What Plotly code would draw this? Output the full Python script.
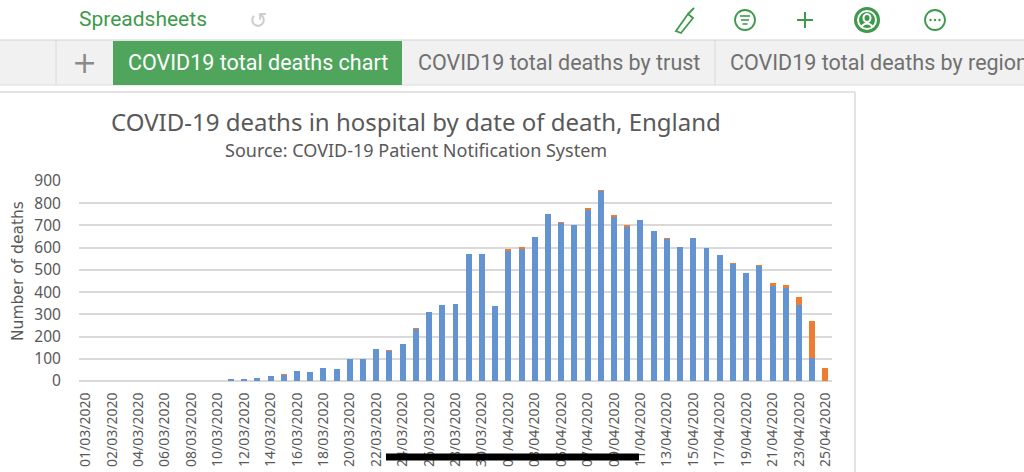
import plotly.graph_objects as go

# ---------------- data ----------------
categories = [
    "Up to 01/03/2020",
    "01/03/2020", "02/03/2020", "03/03/2020", "04/03/2020", "05/03/2020", "06/03/2020",
    "07/03/2020", "08/03/2020", "09/03/2020", "10/03/2020", "11/03/2020", "12/03/2020",
    "13/03/2020", "14/03/2020", "15/03/2020", "16/03/2020", "17/03/2020", "18/03/2020",
    "19/03/2020", "20/03/2020", "21/03/2020", "22/03/2020", "23/03/2020", "24/03/2020",
    "25/03/2020", "26/03/2020", "27/03/2020", "28/03/2020", "29/03/2020", "30/03/2020",
    "31/03/2020",
    "01/04/2020", "02/04/2020", "03/04/2020", "04/04/2020", "05/04/2020", "06/04/2020",
    "07/04/2020", "08/04/2020", "09/04/2020", "10/04/2020", "11/04/2020", "12/04/2020",
    "13/04/2020", "14/04/2020", "15/04/2020", "16/04/2020", "17/04/2020", "18/04/2020",
    "19/04/2020", "20/04/2020", "21/04/2020", "22/04/2020", "23/04/2020", "24/04/2020",
    "25/04/2020",
]

deaths_main = [
    0, 0, 0, 0, 0, 0, 0, 0, 0, 0, 0,
    5, 5, 14, 21, 28, 44, 40, 60, 56, 98,
    98, 144, 136, 167, 235, 311, 344, 347, 571, 571,
    337, 589, 596, 648, 752, 711, 701, 773, 857, 739,
    696, 726, 677, 641, 605, 642, 600, 565, 527, 485,
    520, 427, 420, 340, 102, 0,
]

deaths_added = [
    0, 0, 0, 0, 0, 0, 0, 0, 0, 0, 0,
    0, 0, 0, 0, 1, 0, 0, 0, 0, 0,
    0, 0, 2, 0, 3, 0, 0, 0, 0, 0,
    0, 2, 5, 0, 0, 2, 0, 2, 2, 6,
    2, 0, 0, 2, 0, 0, 0, 0, 1, 0,
    1, 13, 13, 39, 170, 60,
]

tick_labels = [
    "01/03/2020", "02/03/2020", "04/03/2020", "06/03/2020", "08/03/2020", "10/03/2020",
    "12/03/2020", "14/03/2020", "16/03/2020", "18/03/2020", "20/03/2020", "22/03/2020",
    "24/03/2020", "26/03/2020", "28/03/2020", "30/03/2020", "01/04/2020", "03/04/2020",
    "05/04/2020", "07/04/2020", "09/04/2020", "11/04/2020", "13/04/2020", "15/04/2020",
    "17/04/2020", "19/04/2020", "21/04/2020", "23/04/2020", "25/04/2020",
]
tick_values = categories[::2]

title_text = "COVID-19 deaths in hospital by date of death, England"
subtitle_text = "Source: COVID-19 Patient Notification System"
y_title = "Number of deaths"

# ---------------- geometry helpers ----------------
FW, FH = 1024, 472
ML, MR, MT, MB = 79, 192, 181, 91
PW, PH = FW - ML - MR, FH - MT - MB


def px(x):
    return (x - ML) / PW


def py(y):
    return (FH - MB - y) / PH


BLUE = "#6393d1"
ORANGE = "#ed7d31"
TXT = "#595959"
GREEN = "#3d9a4b"
TABGREEN = "#4fa55c"

fig = go.Figure()
fig.add_trace(go.Bar(x=categories, y=deaths_main, marker_color=BLUE,
                     marker_line_width=0, name="Deaths"))
fig.add_trace(go.Bar(x=categories, y=deaths_added, marker_color=ORANGE,
                     marker_line_width=0, name="Deaths added"))

shapes = []
ann = []

# top bar / tab bar backgrounds
shapes.append(dict(type="rect", xref="paper", yref="paper", x0=px(0), x1=px(1024),
                   y0=py(85), y1=py(40), fillcolor="#f1f1f1", line_width=0, layer="below"))
shapes.append(dict(type="line", xref="paper", yref="paper", x0=px(0), x1=px(1024),
                   y0=py(40), y1=py(40), line=dict(color="#d4d4d4", width=1)))
shapes.append(dict(type="line", xref="paper", yref="paper", x0=px(0), x1=px(1024),
                   y0=py(85), y1=py(85), line=dict(color="#dcdcdc", width=1)))
shapes.append(dict(type="line", xref="paper", yref="paper", x0=px(56), x1=px(56),
                   y0=py(85), y1=py(40), line=dict(color="#d8d8d8", width=1)))
shapes.append(dict(type="rect", xref="paper", yref="paper", x0=px(113), x1=px(402),
                   y0=py(85), y1=py(41), fillcolor=TABGREEN, line_width=0))
shapes.append(dict(type="line", xref="paper", yref="paper", x0=px(715), x1=px(715),
                   y0=py(85), y1=py(40), line=dict(color="#d8d8d8", width=1)))
# chart frame
shapes.append(dict(type="line", xref="paper", yref="paper", x0=px(0), x1=px(855),
                   y0=py(92), y1=py(92), line=dict(color="#d9d9d9", width=1.5)))
shapes.append(dict(type="line", xref="paper", yref="paper", x0=px(855), x1=px(855),
                   y0=py(92), y1=py(472), line=dict(color="#d9d9d9", width=1.5)))

# tab bar texts
ann.append(dict(text="+", x=px(84), y=py(62), font=dict(size=30, color="#8a8a8a", family="DejaVu Sans")))
ann.append(dict(text="COVID19 total deaths chart", x=px(258), y=py(63),
                font=dict(size=21.5, color="white", family="Roboto")))
ann.append(dict(text="COVID19 total deaths by trust", x=px(559), y=py(63),
                font=dict(size=21.5, color="#707070", family="Roboto")))
ann.append(dict(text="COVID19 total deaths by region", x=px(728), y=py(63), xanchor="left",
                font=dict(size=21.5, color="#707070", family="Roboto")))

# top bar
ann.append(dict(text="Spreadsheets", x=px(77), y=py(19), xanchor="left",
                font=dict(size=21, color=GREEN, family="Roboto")))
ann.append(dict(text="↺", x=px(258), y=py(20), font=dict(size=22, color="#cccccc", family="DejaVu Sans")))
# brush icon
shapes.append(dict(type="path", xref="paper", yref="paper",
                   path="M {} {} L {} {} L {} {} L {} {} Z".format(
                       px(676), py(31), px(688), py(14), px(693), py(18), px(681), py(33)),
                   line=dict(color=GREEN, width=1.8), fillcolor="rgba(0,0,0,0)"))
shapes.append(dict(type="line", xref="paper", yref="paper", x0=px(688), x1=px(694),
                   y0=py(14), y1=py(8), line=dict(color=GREEN, width=2)))
# list circle
shapes.append(dict(type="circle", xref="paper", yref="paper", x0=px(735), x1=px(755),
                   y0=py(30), y1=py(10), line=dict(color=GREEN, width=1.8)))
for yy, half in ((16, 5), (20, 4), (24, 2.5)):
    shapes.append(dict(type="line", xref="paper", yref="paper", x0=px(745 - half), x1=px(745 + half),
                       y0=py(yy), y1=py(yy), line=dict(color=GREEN, width=1.6)))
# plus
shapes.append(dict(type="line", xref="paper", yref="paper", x0=px(797), x1=px(813),
                   y0=py(20), y1=py(20), line=dict(color=GREEN, width=2)))
shapes.append(dict(type="line", xref="paper", yref="paper", x0=px(805), x1=px(805),
                   y0=py(12), y1=py(28), line=dict(color=GREEN, width=2)))
# user icon
shapes.append(dict(type="circle", xref="paper", yref="paper", x0=px(854), x1=px(880),
                   y0=py(33), y1=py(7), fillcolor=GREEN, line_width=0))
shapes.append(dict(type="circle", xref="paper", yref="paper", x0=px(858), x1=px(876),
                   y0=py(29), y1=py(11), line=dict(color="white", width=2)))
shapes.append(dict(type="circle", xref="paper", yref="paper", x0=px(863.5), x1=px(870.5),
                   y0=py(22), y1=py(14), line=dict(color="white", width=2)))
shapes.append(dict(type="path", xref="paper", yref="paper",
                   path="M {} {} Q {} {} {} {}".format(px(861), py(27), px(867), py(20), px(873), py(27)),
                   line=dict(color="white", width=2)))
# ellipsis circle
shapes.append(dict(type="circle", xref="paper", yref="paper", x0=px(925), x1=px(945),
                   y0=py(30), y1=py(10), line=dict(color=GREEN, width=1.8)))
for xx in (930.5, 935, 939.5):
    shapes.append(dict(type="circle", xref="paper", yref="paper", x0=px(xx - 1.2), x1=px(xx + 1.2),
                       y0=py(21.2), y1=py(18.8), fillcolor=GREEN, line_width=0))

# chart titles
ann.append(dict(text=title_text, x=px(416), y=py(121),
                font=dict(size=24, color=TXT, family="Noto Sans")))
ann.append(dict(text=subtitle_text, x=px(416), y=py(150),
                font=dict(size=18, color=TXT, family="Noto Sans")))
ann.append(dict(text=y_title, x=px(18), y=py(271), textangle=-90,
                font=dict(size=15.5, color=TXT, family="DejaVu Sans")))

# home indicator bar across the screenshot
shapes.append(dict(type="line", xref="paper", yref="paper", x0=px(386), x1=px(639),
                   y0=py(457), y1=py(457), line=dict(color="black", width=7), layer="above"))

for a in ann:
    a.setdefault("xref", "paper")
    a.setdefault("yref", "paper")
    a.setdefault("showarrow", False)
    a.setdefault("xanchor", "center")
    a.setdefault("yanchor", "middle")

fig.update_layout(
    width=FW, height=FH,
    margin=dict(l=ML, r=MR, t=MT, b=MB, autoexpand=False),
    barmode="stack", bargap=0.55,
    showlegend=False,
    paper_bgcolor="white", plot_bgcolor="white",
    shapes=shapes, annotations=ann,
    font=dict(family="Noto Sans", color=TXT),
)
fig.update_xaxes(
    type="category", categoryorder="array", categoryarray=categories,
    tickmode="array", tickvals=tick_values, ticktext=tick_labels,
    tickangle=-90, tickfont=dict(size=14, color=TXT, family="Noto Sans"),
    ticks="outside", ticklen=5, tickcolor="rgba(0,0,0,0)",
    showgrid=False, showline=False, zeroline=False,
)
fig.update_yaxes(
    range=[0, 900], dtick=100, tick0=0,
    tickfont=dict(size=15.5, color=TXT, family="Noto Sans"),
    ticks="outside", ticklen=14, tickcolor="rgba(0,0,0,0)",
    showgrid=True, gridcolor="#d9d9d9", gridwidth=1.5,
    zeroline=True, zerolinecolor="#d9d9d9", zerolinewidth=1.5,
    showline=False,
)

fig.write_html("out.html", config={"displayModeBar": False},
               post_script="document.body.style.margin='0';document.body.style.overflow='hidden';")
